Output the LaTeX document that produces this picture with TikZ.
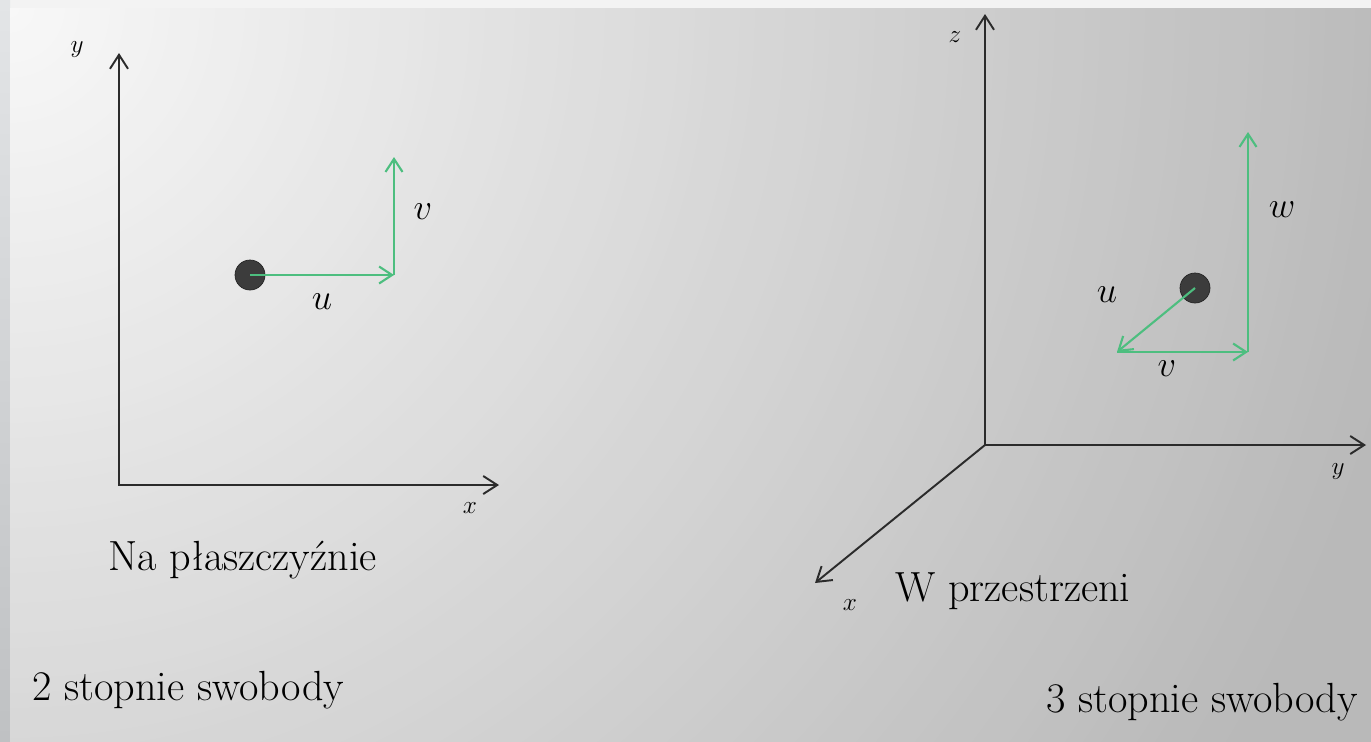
\documentclass[tikz,border=0pt]{standalone}
\usepackage{fontspec}
\usepackage{tikz}
\usetikzlibrary{arrows.meta}
\definecolor{vecgreen}{HTML}{4DBE7F}
\definecolor{axisgray}{HTML}{2B2B2B}
\definecolor{balldark}{HTML}{3C3C3C}
\definecolor{stripTop}{HTML}{E3E5E7}
\definecolor{stripBot}{HTML}{BFC1C3}
\definecolor{stripLight}{HTML}{F3F3F3}
\tikzset{
  axis/.style={draw=axisgray, line width=1.1pt,
               -{Straight Barb[length=2.8mm, width=3.6mm]}},
  axispair/.style={axis, {Straight Barb[length=2.8mm, width=3.6mm]}-{Straight Barb[length=2.8mm, width=3.6mm]}},
  vec/.style={draw=vecgreen, line width=1.2pt,
              -{Straight Barb[length=2.6mm, width=3.4mm]}},
  ball/.style={circle, minimum size=6mm, inner sep=0pt, fill=balldark, draw=black!85},
  axlabel/.style={font=\fontsize{14}{16}\selectfont, inner sep=0pt},
  veclabel/.style={font=\fontsize{22}{26}\selectfont, inner sep=0pt},
  caption/.style={font=\fontsize{24}{28}\selectfont, inner sep=0pt},
}
\begin{document}
\begin{tikzpicture}[x=0.02cm, y=-0.02cm]
  % background
  \fill[stripLight] (0,0) rectangle (1371,741);
  \shade[top color=stripTop, bottom color=stripBot] (0,0) rectangle (10,741);
  \begin{scope}
    \clip (10,8) rectangle (1371,741);
    \foreach \r in {1600,1585,...,10} {
      \pgfmathsetmacro\k{min(max(100-(248-0.044*\r)/2.55,0),27.5)}
      \fill[black!\k] (10,8) circle (\r);
    }
  \end{scope}
  \useasboundingbox (0,0) rectangle (1371,741);

  % plane
  \coordinate (oL) at (119,485);
  \coordinate (yL) at (119,53);
  \coordinate (xL) at (499,485);
  \draw[axispair] (yL) -- (oL) -- (xL);
  \node[axlabel] (labyL) at (77,50) {$y$};
  \node[axlabel] (labxL) at (470,508) {$x$};
  \node[ball] (dotL) at (250,275) {};
  \coordinate (uL) at (394,275);
  \coordinate (vL) at (394,157);
  \draw[vec] (dotL.center) -- (uL);
  \draw[vec] (uL) -- (vL);
  \node[veclabel] (labuL) at (322,302) {$u$};
  \node[veclabel] (labvL) at (423,212) {$v$};
  \node[caption, anchor=base west] (capL) at (108,570) {Na płaszczyźnie};
  \node[caption, anchor=base west] (dofL) at (32,700) {2 stopnie swobody};

  % space
  \coordinate (oR) at (985,445);
  \coordinate (zR) at (985,14);
  \coordinate (yR) at (1366,445);
  \coordinate (xR) at (815,583);
  \draw[axispair] (zR) -- (oR) -- (yR);
  \draw[axis] (oR) -- (xR);
  \node[axlabel] (labzR) at (955,37) {$z$};
  \node[axlabel] (labyR) at (1338,472) {$y$};
  \node[axlabel] (labxR) at (850,605) {$x$};
  \node[ball] (dotR) at (1195,288) {};
  \coordinate (uR) at (1117,352);
  \coordinate (vR) at (1248,352);
  \coordinate (wR) at (1248,132);
  \draw[vec] (dotR.center) -- (uR);
  \draw[vec] (uR) -- (vR);
  \draw[vec] (vR) -- (wR);
  \node[veclabel] (labuR) at (1107,295) {$u$};
  \node[veclabel] (labvR) at (1167,369) {$v$};
  \node[veclabel] (labwR) at (1282,210) {$w$};
  \node[caption, anchor=base west] (capR) at (895,601) {W przestrzeni};
  \node[caption, anchor=base east] (dofR) at (1358,712) {3 stopnie swobody};
\end{tikzpicture}
\end{document}
